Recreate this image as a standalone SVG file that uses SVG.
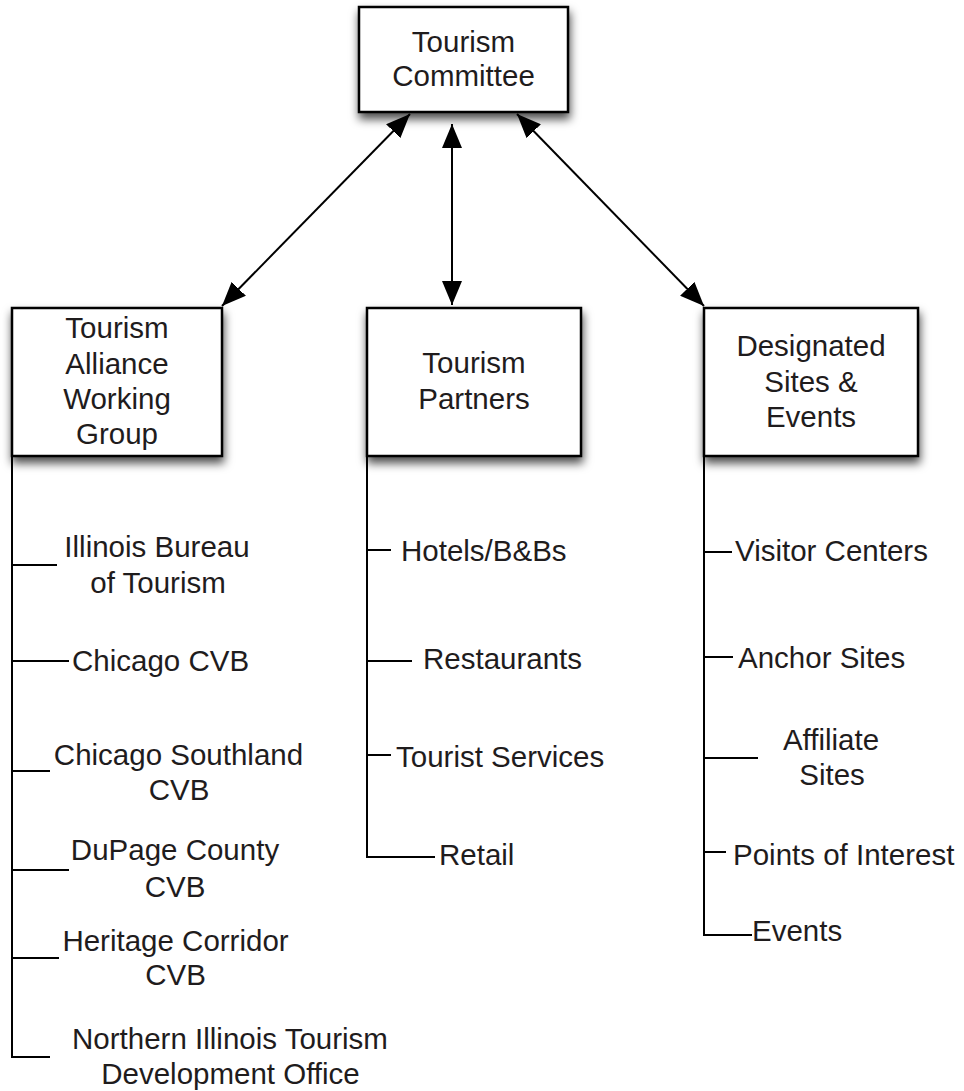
<svg xmlns="http://www.w3.org/2000/svg" width="964" height="1091" viewBox="0 0 964 1091">
<defs>
<filter id="shadow" x="-20%" y="-20%" width="140%" height="150%">
<feDropShadow dx="1" dy="6" stdDeviation="5" flood-color="#000" flood-opacity="0.7"/>
</filter>
<marker id="arrow" viewBox="0 0 24 20" refX="24" refY="10" markerWidth="24" markerHeight="20" markerUnits="userSpaceOnUse" orient="auto-start-reverse">
<path d="M0,0 L24,10 L0,20 z" fill="#000"/>
</marker>
</defs>
<style>
.box{fill:#fff;stroke:#000;stroke-width:2.5;filter:url(#shadow)}
text{font-family:"Liberation Sans",Arial,Helvetica,sans-serif;font-size:29.5px;fill:#1f1c1d}
.c{text-anchor:middle}
.ln{stroke:#000;stroke-width:2;fill:none}
.arr{stroke:#000;stroke-width:2;fill:none;marker-start:url(#arrow);marker-end:url(#arrow)}
</style>
<rect width="964" height="1091" fill="#fff"/>
<g id="tourism-committee">
<rect class="box" x="359" y="7" width="209" height="105"/>
<text class="c" x="463.5" y="52">Tourism</text>
<text class="c" x="463.5" y="86">Committee</text>
</g>
<g id="alliance">
<rect class="box" x="12" y="308" width="210" height="148"/>
<text class="c" x="117" y="338">Tourism</text>
<text class="c" x="117" y="374">Alliance</text>
<text class="c" x="117" y="409">Working</text>
<text class="c" x="117" y="444">Group</text>
</g>
<g id="partners">
<rect class="box" x="367" y="308" width="214" height="148"/>
<text class="c" x="474" y="373">Tourism</text>
<text class="c" x="474" y="409">Partners</text>
</g>
<g id="designated">
<rect class="box" x="704" y="308" width="214" height="148"/>
<text class="c" x="811" y="356">Designated</text>
<text class="c" x="811" y="392">Sites &amp;</text>
<text class="c" x="811" y="427">Events</text>
</g>
<g id="connectors">
<line class="arr" x1="410" y1="114" x2="222" y2="306"/>
<line class="arr" x1="452" y1="124" x2="452" y2="305"/>
<line class="arr" x1="517" y1="114" x2="704" y2="306"/>
<path class="ln" d="M12,456 V1057 H50 M12,565 H57 M12,661 H69 M12,771 H50 M12,870 H69 M12,958 H59"/>
<path class="ln" d="M367,456 V857 H435 M367,550 H391 M367,661 H412 M367,755 H391"/>
<path class="ln" d="M704,456 V935 H752 M704,552 H732 M704,657 H733 M704,758 H758 M704,852 H726"/>
</g>
<g id="illinois-bureau"><text class="c" x="157" y="557">Illinois Bureau</text><text class="c" x="158" y="593">of Tourism</text></g>
<g id="chicago-cvb"><text x="72" y="671">Chicago CVB</text></g>
<g id="chicago-southland"><text class="c" x="178.5" y="765">Chicago Southland</text><text class="c" x="179" y="800">CVB</text></g>
<g id="dupage"><text class="c" x="175" y="860">DuPage County</text><text class="c" x="175" y="897">CVB</text></g>
<g id="heritage"><text class="c" x="175.5" y="951">Heritage Corridor</text><text class="c" x="175.5" y="985">CVB</text></g>
<g id="northern"><text class="c" x="230" y="1049">Northern Illinois Tourism</text><text class="c" x="230.5" y="1084">Development Office</text></g>
<g id="hotels"><text x="401" y="561">Hotels/B&amp;Bs</text></g>
<g id="restaurants"><text x="423" y="669">Restaurants</text></g>
<g id="tourist-services"><text x="396" y="767">Tourist Services</text></g>
<g id="retail"><text x="439" y="865">Retail</text></g>
<g id="visitor-centers"><text x="735" y="561">Visitor Centers</text></g>
<g id="anchor-sites"><text x="738" y="668">Anchor Sites</text></g>
<g id="affiliate-sites"><text class="c" x="831" y="750">Affiliate</text><text class="c" x="832" y="785">Sites</text></g>
<g id="points-of-interest"><text x="733" y="865">Points of Interest</text></g>
<g id="events"><text x="752" y="941">Events</text></g>
</svg>
